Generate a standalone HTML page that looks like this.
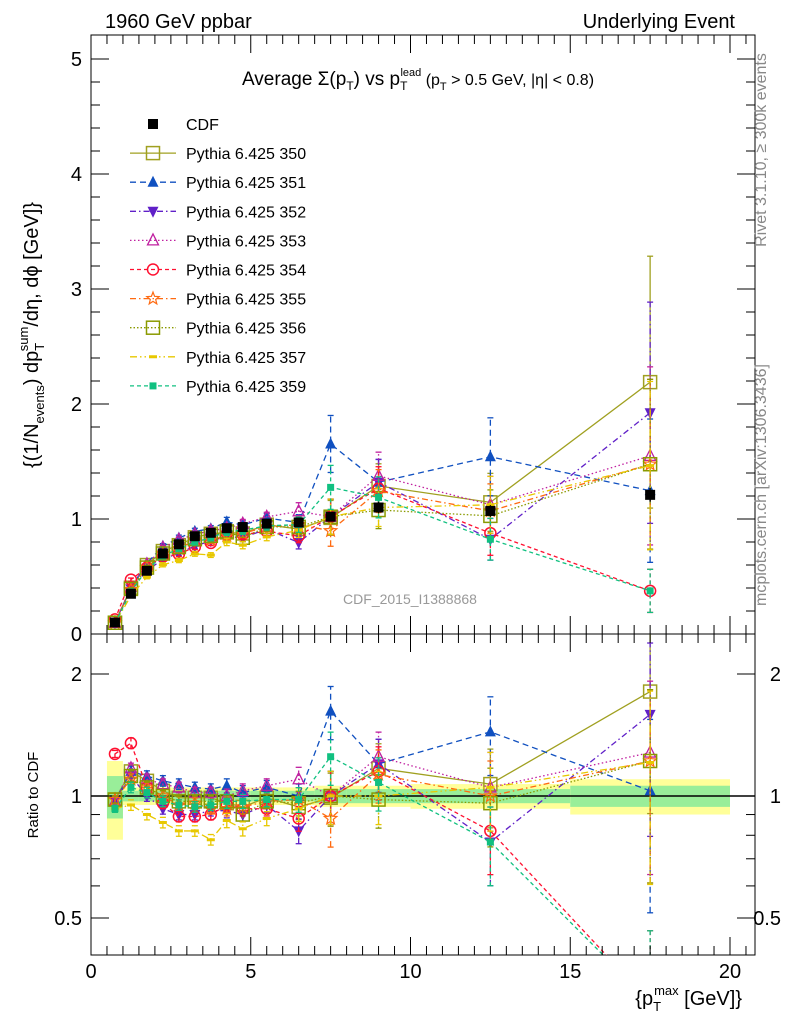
<!DOCTYPE html>
<html><head><meta charset="utf-8"><style>
html,body{margin:0;background:#fff;font-family:"Liberation Sans",sans-serif;overflow:hidden;width:786px;height:1024px}
svg{display:block}
svg text{font-family:"Liberation Sans","DejaVu Sans",sans-serif}
</style></head><body>
<svg id="c" width="786" height="1024" xmlns="http://www.w3.org/2000/svg">
<defs>
<clipPath id="cm"><rect x="91" y="35" width="664" height="599"/></clipPath>
<clipPath id="cr"><rect x="91" y="634" width="664" height="321"/></clipPath>
</defs>
<rect x="91" y="35" width="664" height="920" fill="none" stroke="#000" stroke-width="1"/>
<line x1="91" y1="634" x2="755" y2="634" stroke="#000"/>
<g id="bands"></g><g id="series"></g><g id="axes"></g><g id="legend"></g>
<text x="105" y="28" font-size="20">1960 GeV ppbar</text>
<text x="735" y="28" font-size="20" text-anchor="end">Underlying Event</text>
<text x="418" y="85" font-size="19" text-anchor="middle">Average Σ(p<tspan font-size="12" dy="5">T</tspan><tspan dy="-5">) vs p</tspan><tspan font-size="12" dy="5">T</tspan><tspan font-size="11" dy="-14" dx="-7">lead</tspan><tspan font-size="16" dy="9"> (p</tspan><tspan font-size="11" dy="5">T</tspan><tspan font-size="16" dy="-5"> &gt; 0.5 GeV, |η| &lt; 0.8)</tspan></text>
<text x="410" y="604" font-size="14" fill="#999" text-anchor="middle">CDF_2015_I1388868</text>
<text transform="translate(38,335) rotate(-90)" font-size="20" text-anchor="middle">{(1/N<tspan font-size="13" dy="6">events</tspan><tspan dy="-6">) dp</tspan><tspan font-size="13" dy="6">T</tspan><tspan font-size="13" dy="-16" dx="-7">sum</tspan><tspan dy="10">/dη, dϕ [GeV]}</tspan></text>
<text transform="translate(38,795) rotate(-90)" font-size="15" text-anchor="middle">Ratio to CDF</text>
<text x="742" y="1005" font-size="20" text-anchor="end">{p<tspan font-size="13" dy="6">T</tspan><tspan font-size="13" dy="-16" dx="-7">max</tspan><tspan dy="10"> [GeV]}</tspan></text>
<text transform="translate(766,150) rotate(-90)" font-size="16" fill="#888" text-anchor="middle">Rivet 3.1.10, ≥ 300k events</text>
<text transform="translate(766,485) rotate(-90)" font-size="16" fill="#888" text-anchor="middle">mcplots.cern.ch [arXiv:1306.3436]</text>
</svg>
<script>
const xVals=[0.75,1.25,1.75,2.25,2.75,3.25,3.75,4.25,4.75,5.5,6.5,7.5,9,12.5,17.5];
const cdfVals=[0.1,0.35,0.55,0.7,0.78,0.85,0.88,0.92,0.93,0.96,0.97,1.02,1.1,1.07,1.21];
const cdfErr=[0.01,0.01,0.01,0.02,0.02,0.02,0.02,0.02,0.02,0.03,0.03,0.04,0.05,0.05,0.06];
const mcRelErr=[0.02,0.03,0.03,0.03,0.03,0.03,0.03,0.04,0.04,0.04,0.07,0.15,0.15,0.22,0.5];
const r350=[0.98,1.15,1.09,1.03,0.99,0.99,0.99,0.96,0.94,0.99,0.94,0.99,1.17,1.07,1.81];
const r351=[0.97,1.15,1.12,1.09,1.07,1.05,1.04,1.06,1.02,1.05,1.0,1.62,1.2,1.44,1.03];
const r352=[0.97,1.12,1.0,0.93,0.9,0.9,0.92,0.92,0.9,0.95,0.82,1.0,1.2,0.77,1.59];
const r353=[0.97,1.17,1.1,1.07,1.05,1.02,1.02,1.0,1.03,1.06,1.1,1.0,1.25,1.05,1.28];
const r354=[1.27,1.35,1.05,0.96,0.89,0.89,0.9,0.95,0.93,0.93,0.88,1.0,1.15,0.82,0.31];
const r355=[0.98,1.1,1.05,1.0,0.95,0.96,0.93,0.93,0.94,0.97,0.98,0.88,1.13,1.0,1.22];
const r356=[0.98,1.12,1.05,1.0,0.97,0.97,0.97,0.97,0.9,0.97,0.96,1.0,0.98,0.96,1.22];
const r357=[0.93,0.95,0.9,0.86,0.82,0.82,0.78,0.87,0.83,0.88,0.93,1.0,1.0,1.05,1.21];
const r359=[0.93,1.05,1.02,0.97,0.95,0.94,0.95,0.97,0.97,0.98,0.98,1.25,1.08,0.77,0.31];
const binEdges=[0.5,1,1.5,2,2.5,3,3.5,4,4.5,5,6,7,8,10,15,20];
const bandYellow=[0.22,0.05,0.05,0.05,0.05,0.05,0.05,0.05,0.05,0.05,0.05,0.06,0.06,0.07,0.1];
const bandGreen=[0.12,0.03,0.03,0.03,0.03,0.03,0.03,0.03,0.03,0.03,0.03,0.04,0.04,0.04,0.06];
const mainTicks=[0,1,2,3,4,5];
const ratioTicks=[0.5,1,2];
const xTicks=[0,5,10,15,20];

const NS='http://www.w3.org/2000/svg';
const X=v=>91+v*31.95;
const Y=v=>634-v*115;
const R=v=>796-122*Math.log2(v);
function mk(tag,attrs,parent){const e=document.createElementNS(NS,tag);for(const k in attrs)e.setAttribute(k,attrs[k]);parent.appendChild(e);return e;}
const bands=document.getElementById('bands'),ser=document.getElementById('series'),axes=document.getElementById('axes'),leg=document.getElementById('legend');

const bg=mk('g',{'clip-path':'url(#cr)'},bands);
for(let i=0;i<bandYellow.length;i++){
 const x0=X(binEdges[i]),x1=X(binEdges[i+1]);
 const y=mk('rect',{x:x0,y:R(1+bandYellow[i]),width:x1-x0,height:R(1-bandYellow[i])-R(1+bandYellow[i]),fill:'#ffff99'},bg);
 
 
 const g=mk('rect',{x:x0,y:R(1+bandGreen[i]),width:x1-x0,height:R(1-bandGreen[i])-R(1+bandGreen[i]),fill:'#99ee99'},bg);
 
 
}
const one=mk('line',{x1:91,x2:755,y1:R(1),y2:R(1),stroke:'#000','stroke-width':1.5},bg);



function marker(type,cx,cy,col,p){
 const s=5.5;let e;
 switch(type){
 case 'fsq':e=mk('rect',{x:cx-5,y:cy-5,width:10,height:10,fill:col},p);break;
 case 'osq':e=mk('rect',{x:cx-s-1,y:cy-s-1,width:2*s+2,height:2*s+2,fill:'none',stroke:col,'stroke-width':1.5},p);break;
 case 'smsq':e=mk('rect',{x:cx-3.5,y:cy-3.5,width:7,height:7,fill:col},p);break;
 case 'tri':e=mk('polygon',{points:`${cx},${cy-s-1} ${cx-s},${cy+s-1} ${cx+s},${cy+s-1}`,fill:col},p);break;
 case 'dtri':e=mk('polygon',{points:`${cx},${cy+s+1} ${cx-s},${cy-s+1} ${cx+s},${cy-s+1}`,fill:col},p);break;
 case 'otri':e=mk('polygon',{points:`${cx},${cy-s-1} ${cx-s},${cy+s-1} ${cx+s},${cy+s-1}`,fill:'none',stroke:col,'stroke-width':1.3},p);break;
 case 'ocirc':e=mk('circle',{cx:cx,cy:cy,r:s,fill:'none',stroke:col,'stroke-width':1.5},p);break;
 case 'star':{let pts=[];for(let k=0;k<10;k++){const a=-Math.PI/2+k*Math.PI/5,rr=k%2?2.8:6.5;pts.push((cx+rr*Math.cos(a)).toFixed(1)+','+(cy+rr*Math.sin(a)).toFixed(1));}
  e=mk('polygon',{points:pts.join(' '),fill:'none',stroke:col,'stroke-width':1.2},p);break;}
 case 'dot':e=mk('polygon',{points:`${cx-4},${cy} ${cx+4},${cy} `,stroke:col,'stroke-width':3},p);break;
 }
 return e;
}

const seriesDefs=[
 {name:'Pythia 6.425 350',id:'350',r:r350,col:'#a0a020',dash:'',m:'osq'},
 {name:'Pythia 6.425 351',id:'351',r:r351,col:'#1050c0',dash:'6,4',m:'tri'},
 {name:'Pythia 6.425 352',id:'352',r:r352,col:'#6020c8',dash:'6,3,1.5,3',m:'dtri'},
 {name:'Pythia 6.425 353',id:'353',r:r353,col:'#c020a0',dash:'1.5,2.5',m:'otri'},
 {name:'Pythia 6.425 354',id:'354',r:r354,col:'#ff1030',dash:'4,3',m:'ocirc'},
 {name:'Pythia 6.425 355',id:'355',r:r355,col:'#ff6a10',dash:'6,3,1.5,3',m:'star'},
 {name:'Pythia 6.425 356',id:'356',r:r356,col:'#8a9a00',dash:'1.5,2',m:'osq'},
 {name:'Pythia 6.425 357',id:'357',r:r357,col:'#e8c800',dash:'7,3,1.5,3,1.5,3',m:'dot'},
 {name:'Pythia 6.425 359',id:'359',r:r359,col:'#10c080',dash:'4,3',m:'smsq'}
];

const gm=mk('g',{'clip-path':'url(#cm)'},ser);
const gr=mk('g',{'clip-path':'url(#cr)'},ser);
seriesDefs.forEach(s=>{
 const mainV=s.r.map((r,i)=>r*cdfVals[i]);
 [[gm,mainV,Y,'main'],[gr,s.r,R,'ratio']].forEach(([g,vals,fy,pn])=>{
  const grp=mk('g',{},g);
  
  
  const pl=mk('polyline',{points:vals.map((v,i)=>X(xVals[i])+','+fy(Math.max(v,0.05))).join(' '),fill:'none',stroke:s.col,'stroke-width':1.3,'stroke-dasharray':s.dash},grp);
  
  
  vals.forEach((v,i)=>{
   const e=mcRelErr[i]*v,lo=Math.max(v-e,0.05),hi=v+e;
   mk('line',{x1:X(xVals[i]),x2:X(xVals[i]),y1:fy(lo),y2:fy(hi),stroke:s.col,'stroke-width':1.3,'stroke-dasharray':s.dash},grp);
   mk('line',{x1:X(xVals[i])-3,x2:X(xVals[i])+3,y1:fy(hi),y2:fy(hi),stroke:s.col,'stroke-width':1.3},grp);
   mk('line',{x1:X(xVals[i])-3,x2:X(xVals[i])+3,y1:fy(lo),y2:fy(lo),stroke:s.col,'stroke-width':1.3},grp);
   const mm=marker(s.m,X(xVals[i]),fy(v),s.col,grp);
   
   
  });
 });
});
const gd=mk('g',{},gm);


cdfVals.forEach((v,i)=>{
 mk('line',{x1:X(xVals[i]),x2:X(xVals[i]),y1:Y(v-cdfErr[i]),y2:Y(v+cdfErr[i]),stroke:'#000','stroke-width':1.3},gd);
 const m=marker('fsq',X(xVals[i]),Y(v),'#000',gd);
 
 
});

for(let v=0;v<=5.2;v+=0.2){const maj=Math.abs(v-Math.round(v))<1e-6;const L=maj?18:9;
 mk('line',{x1:91,x2:91+L,y1:Y(v),y2:Y(v),stroke:'#000'},axes);
 mk('line',{x1:755,x2:755-L,y1:Y(v),y2:Y(v),stroke:'#000'},axes);}
mainTicks.forEach(t=>{const e=mk('text',{x:82,y:Y(t)+7,'font-size':20,'text-anchor':'end'},axes);e.textContent=t;
 
 });
[0.5,0.6,0.7,0.8,0.9,1,2].forEach(v=>{const maj=ratioTicks.includes(v);const L=maj?18:9;
 mk('line',{x1:91,x2:91+L,y1:R(v),y2:R(v),stroke:'#000'},axes);
 mk('line',{x1:755,x2:755-L,y1:R(v),y2:R(v),stroke:'#000'},axes);});
ratioTicks.forEach(t=>{[[82,'end'],[781,'end']].forEach(([x,a])=>{const e=mk('text',{x:x,y:R(t)+7,'font-size':20,'text-anchor':a},axes);e.textContent=t;
 
 });});
for(let v=0;v<=20.7;v+=0.5){const maj=Math.abs(v/5-Math.round(v/5))<1e-6;const L=maj?18:9;const x=X(v);
 mk('line',{x1:x,x2:x,y1:955,y2:955-L,stroke:'#000'},axes);
 mk('line',{x1:x,x2:x,y1:634,y2:634-L,stroke:'#000'},axes);
 mk('line',{x1:x,x2:x,y1:634,y2:634+L,stroke:'#000'},axes);
 mk('line',{x1:x,x2:x,y1:35,y2:35+L,stroke:'#000'},axes);}
xTicks.forEach(t=>{const e=mk('text',{x:X(t),y:978,'font-size':20,'text-anchor':'middle'},axes);e.textContent=t;
 
 });

const items=[{name:'CDF',col:'#000',m:'fsq',dash:null}].concat(seriesDefs);
items.forEach((s,i)=>{const y=124+i*29.1;
 const g=mk('g',{},leg);
 
 
 if(s.dash!==null)mk('line',{x1:130,x2:176,y1:y,y2:y,stroke:s.col,'stroke-width':1.3,'stroke-dasharray':s.dash},g);
 marker(s.m,153,y,s.col,g);
 const t=mk('text',{x:186,y:y+6,'font-size':16},g);t.textContent=s.name;});
</script>
</body></html>
